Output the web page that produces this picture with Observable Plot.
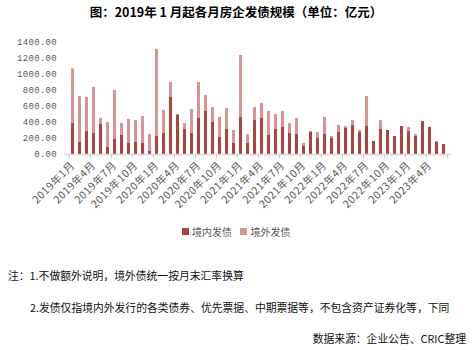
<!DOCTYPE html>
<html>
<head>
<meta charset="utf-8">
<script src="https://cdn.jsdelivr.net/npm/d3@7"></script>
<script src="https://cdn.jsdelivr.net/npm/@observablehq/plot@0.6"></script>
<style>
  body { margin: 0; background: #fff; }
  #wrap { position: relative; width: 472px; height: 350px; overflow: hidden;
          font-family: "Noto Sans CJK SC", sans-serif; }
  #chart { position: absolute; left: 0; top: 0; }
  #chart g[aria-label="x-axis tick label"] text { letter-spacing: 0.6px; }
  #chart g[aria-label="y-axis tick label"] text { letter-spacing: 0.3px; }
  #title { position: absolute; left: 0; top: 6px; width: 472px; text-align: center;
           font-weight: bold; font-size: 12.5px; line-height: 1; color: #000; }
  #legend { position: absolute; left: 0; top: 226.5px; width: 472px; display: flex;
            justify-content: center; align-items: center; font-size: 10px; line-height: 1; color: #595959; }
  #legend .item { display: flex; align-items: center; margin: 0 4px; }
  #legend .sw { display: inline-block; width: 7px; height: 7px; margin-right: 3.5px; }
  .note { position: absolute; font-size: 10.8px; line-height: 1; color: #111; white-space: nowrap; }
</style>
</head>
<body>
<div id="wrap">
  <div id="chart"></div>
  <div id="title">图：2019年 1 月起各月房企发债规模（单位：亿元）</div>
  <div id="legend"></div>
  <div class="note" style="left:8px; top:269.5px;">注：1.不做额外说明，境外债统一按月末汇率换算</div>
  <div class="note" style="left:30px; top:301.5px;">2.发债仅指境内外发行的各类债券、优先票据、中期票据等，不包含资产证券化等，下同</div>
  <div class="note" style="right:6px; top:332.5px;">数据来源：企业公告、CRIC整理</div>
</div>
<script>
// Monthly categories, January 2019 through June 2023
const months = [];
for (let y = 2019; y <= 2023; y++) {
  for (let m = 1; m <= 12; m++) {
    if (y === 2023 && m > 6) break;
    months.push(`${y}年${m}月`);
  }
}

// Issuance per month (亿元)
const domestic = [
  390, 150, 290, 265, 375, 88, 188, 238, 138, 150,
  138, 38, 225, 262, 712, 488, 312, 262, 450, 538,
  400, 212, 312, 138, 462, 138, 425, 450, 238, 312,
  338, 262, 250, 100, 275, 200, 250, 200, 275, 325,
  362, 275, 350, 162, 312, 300, 225, 350, 288, 225,
  412, 338, 150, 125
];
const overseas = [
  680, 575, 425, 575, 75, 312, 612, 150, 300, 275,
  337, 212, 1088, 288, 188, 12, 75, 300, 450, 200,
  188, 250, 262, 162, 775, 112, 162, 188, 300, 188,
  200, 125, 200, 38, 12, 75, 212, 25, 88, 25,
  62, 25, 375, 0, 112, 0, 0, 0, 50, 25,
  0, 0, 12, 0
];

const seriesNames = ["境内发债", "境外发债"];
const seriesColors = ["#a94441", "#d59594"];
const yTicks = [0, 200, 400, 600, 800, 1000, 1200, 1400];
const tickMonths = months.filter((d, i) => i % 3 === 0);

const rows = months.flatMap((m, i) => [
  {month: m, series: seriesNames[0], value: domestic[i]},
  {month: m, series: seriesNames[1], value: overseas[i]}
]);

const W = 472, ML = 64, MR = 21;
const step = (W - ML - MR) / months.length;

const chart = Plot.plot({
  width: W,
  height: 210,
  marginTop: 42,
  marginBottom: 56,
  marginLeft: ML,
  marginRight: MR,
  style: {fontFamily: '"Noto Sans CJK SC", sans-serif', fontSize: "10px", color: "#595959", background: "transparent"},
  x: {type: "band", domain: months, paddingInner: 0.6, paddingOuter: 0.3, axis: null, label: null},
  y: {domain: [0, 1400], axis: null, label: null},
  color: {domain: seriesNames, range: seriesColors},
  marks: [
    Plot.barY(rows, {x: "month", y: "value", fill: "series", order: seriesNames}),
    Plot.ruleY([0], {stroke: "#d9d9d9", strokeWidth: 1.5}),
    // tick marks sit on the boundaries between every third month
    Plot.ruleX(tickMonths, {x: d => d, y1: 0, y2: -55, dx: -step / 2, stroke: "#cfcfcf", strokeWidth: 1.2}),
    Plot.ruleX(months.slice(-1), {x: d => d, y1: 0, y2: -55, dx: step / 2, stroke: "#cfcfcf", strokeWidth: 1.2}),
    Plot.axisY({ticks: yTicks, tickSize: 0, tickPadding: 7.5, tickFormat: d => d.toFixed(2), label: null,
                fontFamily: "Liberation Mono", fontSize: 9, color: "#595959"}),
    Plot.axisX({ticks: tickMonths, tickSize: 0, tickRotate: -45, tickPadding: 9, label: null,
                fontSize: 10.5, color: "#595959"})
  ]
});
document.getElementById("chart").appendChild(chart);

// legend swatches
const legend = document.getElementById("legend");
seriesNames.forEach((name, i) => {
  const item = document.createElement("span");
  item.className = "item";
  const sw = document.createElement("span");
  sw.className = "sw";
  sw.style.background = seriesColors[i];
  item.appendChild(sw);
  item.appendChild(document.createTextNode(name));
  legend.appendChild(item);
});
</script>
</body>
</html>
